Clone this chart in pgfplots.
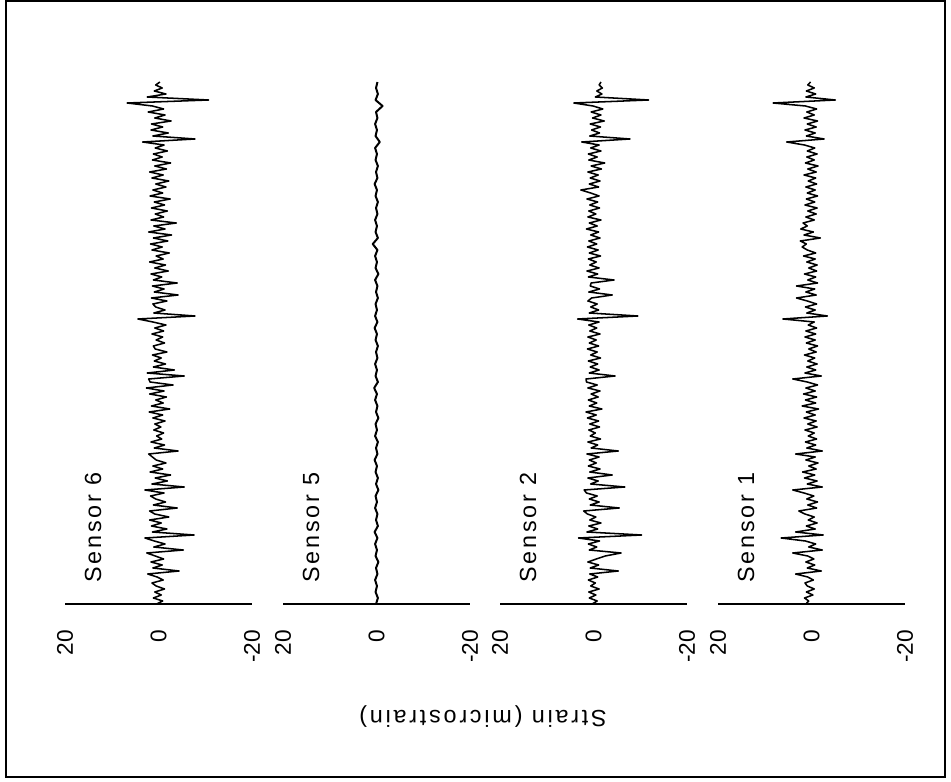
\documentclass[border=0pt]{standalone}
\usepackage{pgfplots}
\usepackage{pgfplotstable}
\pgfplotsset{compat=1.18}
\usepackage{fontspec}
\setmainfont{Liberation Sans}

% strain records, one value per sample (sample index runs upward)
\pgfplotstableread[row sep=\\]{
v\\
0.4\\ -0.9\\ 1.1\\ -0.6\\ 0.8\\ -1.3\\ 0.5\\ 1.4\\ -1.0\\ 0.3\\
2.3\\ -4.4\\ 1.2\\ -0.8\\ 1.6\\ -1.1\\ 0.7\\ 2.5\\ -5.3\\ 1.0\\
-1.4\\ 0.9\\ 2.9\\ -7.6\\ 1.3\\ -1.8\\ 1.5\\ -0.6\\ 1.9\\ -2.2\\
0.8\\ 1.9\\ -4.0\\ 1.1\\ -1.5\\ 0.6\\ 1.7\\ -1.2\\ 2.9\\ -5.5\\
1.4\\ -1.9\\ 0.7\\ -2.6\\ 1.8\\ -0.9\\ 1.2\\ -1.6\\ 0.5\\ 1.3\\
2.1\\ -4.2\\ 0.9\\ -1.3\\ 1.6\\ -0.7\\ 0.4\\ -1.1\\ 1.0\\ -0.5\\
0.8\\ -1.4\\ 1.2\\ -0.9\\ 2.0\\ -2.4\\ 1.5\\ -1.0\\ 0.6\\ -1.7\\
1.9\\ -1.2\\ 2.6\\ -3.1\\ 1.8\\ 2.1\\ -5.5\\ 2.4\\ -3.4\\ 1.1\\
-1.5\\ 0.9\\ -0.6\\ 1.3\\ -1.8\\ 0.7\\ 1.1\\ -1.3\\ 0.5\\ -0.9\\
1.4\\ -1.1\\ 0.8\\ -1.6\\ 1.2\\ 4.4\\ -7.8\\ 1.0\\ -1.4\\ 0.6\\
1.2\\ -1.8\\ 1.5\\ -4.2\\ 0.9\\ -1.2\\ 1.3\\ -4.0\\ 1.1\\ -0.7\\
1.6\\ -2.1\\ 0.8\\ -1.5\\ 1.9\\ -1.0\\ 0.5\\ -2.3\\ 1.4\\ -0.8\\
1.7\\ -2.0\\ 1.1\\ -2.8\\ 2.1\\ -1.4\\ 1.0\\ -3.8\\ 1.6\\ -1.1\\
0.7\\ -1.9\\ 1.5\\ -1.3\\ 0.9\\ -2.5\\ 1.8\\ -0.9\\ 1.2\\ -1.6\\
0.6\\ -2.2\\ 1.4\\ -1.0\\ 1.9\\ -1.7\\ 0.8\\ -2.6\\ 1.3\\ -0.8\\
1.1\\ -1.9\\ 0.7\\ -1.2\\ 3.4\\ -7.8\\ 1.2\\ -2.1\\ 1.6\\ -0.9\\
1.5\\ -2.7\\ 0.8\\ -1.4\\ 2.2\\ -1.1\\ 1.3\\ 6.7\\ -10.7\\ 2.4\\
-1.6\\ 0.9\\ -0.8\\ 0.6\\ -0.3\\
}\sensorsix

\pgfplotstableread[row sep=\\]{
v\\
0.1\\ -0.3\\ 0.2\\ -0.1\\ 0.3\\ -0.2\\ 0.1\\ -0.4\\ 0.2\\ -0.1\\
0.3\\ -0.2\\ 0.4\\ -0.3\\ 0.1\\ -0.2\\ 0.3\\ -0.1\\ 0.2\\ -0.4\\
0.1\\ -0.3\\ 0.2\\ -0.1\\ 0.4\\ -0.2\\ 0.1\\ -0.3\\ 0.3\\ -0.1\\
0.2\\ -0.4\\ 0.1\\ -0.2\\ 0.3\\ -0.1\\ 0.5\\ -0.3\\ 0.2\\ -0.1\\
0.3\\ -0.2\\ 0.1\\ -0.3\\ 0.2\\ -0.1\\ 0.4\\ -0.2\\ 0.3\\ -0.1\\
0.2\\ -0.3\\ 0.1\\ -0.2\\ 0.3\\ -0.4\\ 0.2\\ -0.1\\ 0.3\\ -0.2\\
0.8\\ -0.3\\ 0.2\\ -0.1\\ 0.3\\ -0.2\\ 0.1\\ -0.3\\ 0.2\\ -0.1\\
0.4\\ -0.2\\ 0.1\\ -0.3\\ 0.2\\ -0.1\\ 0.3\\ -0.7\\ 0.2\\ -0.1\\
0.3\\ -0.2\\ 0.1\\ -1.3\\ 0.2\\ -0.3\\ 0.1\\ -0.2\\
}\sensorfive

\pgfplotstableread[row sep=\\]{
v\\
0.3\\ -0.8\\ 0.9\\ -0.5\\ 1.0\\ -1.2\\ 0.6\\ -0.4\\ 1.1\\ -0.9\\
0.8\\ -5.3\\ 0.7\\ -1.1\\ 1.2\\ -0.6\\ -2.5\\ -5.9\\ 0.9\\ -0.7\\
1.1\\ -1.3\\ 3.2\\ -10.3\\ 1.4\\ -0.9\\ 1.0\\ -1.6\\ 0.8\\ -0.5\\
1.3\\ 2.1\\ -5.5\\ 0.7\\ -1.2\\ 0.9\\ -0.8\\ 1.5\\ 2.0\\ -6.7\\
0.6\\ -1.0\\ 1.2\\ -4.0\\ 0.8\\ -1.4\\ 1.1\\ -0.6\\ 0.9\\ -1.2\\
1.4\\ -5.3\\ 0.5\\ -0.9\\ 1.2\\ -1.5\\ 0.7\\ -0.4\\ 1.0\\ -1.3\\
0.8\\ -1.1\\ 1.3\\ -0.6\\ 1.6\\ -1.8\\ 0.9\\ -0.7\\ 1.1\\ -1.0\\
0.5\\ -1.4\\ 1.2\\ -0.8\\ 1.5\\ 1.6\\ -4.6\\ 0.9\\ -1.2\\ 0.7\\
-0.9\\ 1.1\\ -1.5\\ 0.6\\ -0.8\\ 1.3\\ -1.1\\ 0.9\\ -0.6\\ 1.2\\
-1.4\\ 0.8\\ -0.7\\ 1.0\\ -1.2\\ 3.4\\ -9.5\\ 0.9\\ -1.1\\ 0.6\\
-0.8\\ 1.2\\ 0.4\\ -4.0\\ 1.0\\ -1.3\\ 0.7\\ 0.5\\ -4.4\\ 1.1\\
-0.9\\ 1.4\\ -1.2\\ 0.8\\ -0.6\\ 1.1\\ -1.5\\ 0.9\\ -1.0\\ 1.3\\
-0.7\\ 1.0\\ -1.4\\ 0.6\\ -1.1\\ 1.5\\ -0.8\\ 0.9\\ -1.6\\ 1.2\\
-0.5\\ 1.0\\ -1.3\\ 0.8\\ -0.9\\ 1.4\\ -1.2\\ 0.6\\ 2.7\\ -1.1\\
0.9\\ -1.4\\ 0.7\\ -1.0\\ 1.2\\ -1.7\\ 0.5\\ -2.4\\ 1.0\\ -0.8\\
1.1\\ -1.6\\ 0.6\\ -1.2\\ 2.5\\ -7.8\\ 0.8\\ -1.3\\ 0.4\\ -1.5\\
0.7\\ -2.3\\ 0.2\\ -1.6\\ 0.5\\ -2.0\\ 0.1\\ 4.2\\ -11.8\\ -0.4\\
-1.8\\ -0.7\\ -1.9\\ -1.2\\ -1.6\\
}\sensortwo

\pgfplotstableread[row sep=\\]{
v\\
1.2\\ 0.6\\ 1.5\\ -0.3\\ 1.1\\ -0.6\\ 0.9\\ 1.4\\ -0.4\\ 0.8\\
3.4\\ -2.1\\ 0.9\\ -0.7\\ 1.2\\ -0.5\\ 0.8\\ 4.0\\ -2.3\\ 0.6\\
-0.9\\ 1.3\\ 6.5\\ -2.5\\ 3.4\\ -0.8\\ 1.1\\ -1.2\\ 0.7\\ -0.6\\
1.4\\ 2.7\\ -1.1\\ 0.8\\ -1.3\\ 1.0\\ -0.5\\ 1.6\\ 4.0\\ -2.3\\
0.9\\ -1.2\\ 1.5\\ -0.7\\ 1.9\\ -1.0\\ 0.6\\ -1.4\\ 1.2\\ -0.8\\
3.4\\ -2.3\\ 1.0\\ -0.9\\ 1.3\\ -1.1\\ 0.7\\ -0.6\\ 1.4\\ -1.2\\
0.8\\ -1.0\\ 1.6\\ -0.8\\ 1.1\\ -1.5\\ 2.0\\ -0.9\\ 1.3\\ -1.1\\
1.7\\ -0.8\\ 1.2\\ -1.3\\ 0.9\\ 4.0\\ -2.1\\ 1.4\\ -0.9\\ 1.0\\
-1.2\\ 0.8\\ -0.7\\ 1.5\\ -1.0\\ 0.6\\ -1.3\\ 1.1\\ -0.8\\ 1.4\\
-0.9\\ 1.2\\ -1.1\\ 0.7\\ -0.6\\ 6.1\\ -3.4\\ 1.0\\ -0.8\\ 1.3\\
-1.1\\ 0.9\\ 3.2\\ -1.0\\ 1.2\\ -0.7\\ 3.2\\ -1.3\\ 0.8\\ -0.9\\
1.5\\ -1.1\\ 0.6\\ -1.2\\ 1.0\\ -0.8\\ 1.7\\ -0.9\\ 0.9\\ 2.0\\
1.1\\ 2.4\\ -1.9\\ 1.6\\ -0.4\\ 2.3\\ 0.9\\ 1.8\\ -0.6\\ 1.2\\
-1.0\\ 0.8\\ -1.2\\ 1.4\\ -0.7\\ 1.1\\ -1.3\\ 0.9\\ -0.8\\ 1.2\\
-1.1\\ 0.7\\ -0.9\\ 1.6\\ -1.0\\ 0.8\\ -1.4\\ 1.3\\ -0.6\\ 1.0\\
-1.2\\ 0.9\\ -0.7\\ 1.5\\ 5.3\\ -2.7\\ 1.1\\ -0.8\\ 1.4\\ -1.0\\
0.9\\ -1.3\\ 1.6\\ -0.6\\ 1.0\\ -1.1\\ 1.3\\ 8.2\\ -5.1\\ 1.2\\
-0.9\\ 1.1\\ -0.6\\ 0.8\\ 0.2\\
}\sensorone

\newcommand\tickfont{\fontsize{17}{20}\selectfont}
\newcommand\labelfont{\fontsize{17.5}{20}\selectfont\addfontfeature{LetterSpace=12}}

\pgfplotsset{
  strainpanel/.style={
    scale only axis,
    width=140.25pt, height=391.5pt,
    xmin=-20, xmax=20, x dir=reverse,
    ymin=0, ymax=174,
    axis x line*=bottom, axis y line=none,
    axis line style={-, line width=1.5pt},
    xtick={-20,0,20}, xticklabels={-20,0,20},
    major tick length=0pt,
    xticklabel style={rotate=90, anchor=east, font=\tickfont, xshift=-16pt},
    clip=false,
  },
  trace/.style={black, line width=1.15pt, line join=round},
}

\begin{document}
\begin{tikzpicture}
\path[use as bounding box] (0,0) rectangle (713.25pt,586.5pt);
\draw[line width=1.5pt] (4.5pt,3.75pt) rectangle (708.75pt,585.75pt);

\begin{axis}[strainpanel, at={(48.75pt,133.5pt)}, anchor=south west]
  \addplot[trace] table[x index=0, y index=0, y expr=\coordindex] {\sensorsix};
  \node[rotate=90, anchor=west, font=\labelfont] at (axis cs:14,5.5) {Sensor 6};
\end{axis}

\begin{axis}[strainpanel, at={(212.25pt,133.5pt)}, anchor=south west]
  \addplot[trace, line width=1.5pt] table[x index=0, y index=0, y expr=2*\coordindex] {\sensorfive};
  \node[rotate=90, anchor=west, font=\labelfont] at (axis cs:14,5.5) {Sensor 5};
\end{axis}

\begin{axis}[strainpanel, at={(375pt,133.5pt)}, anchor=south west]
  \addplot[trace] table[x index=0, y index=0, y expr=\coordindex] {\sensortwo};
  \node[rotate=90, anchor=west, font=\labelfont] at (axis cs:14,5.5) {Sensor 2};
\end{axis}

\begin{axis}[strainpanel, at={(538.5pt,133.5pt)}, anchor=south west]
  \addplot[trace] table[x index=0, y index=0, y expr=\coordindex] {\sensorone};
  \node[rotate=90, anchor=west, font=\labelfont] at (axis cs:14,5.5) {Sensor 1};
\end{axis}

\node[rotate=180, font=\labelfont] at (362.25pt,48.75pt) {Strain (microstrain)};
\end{tikzpicture}
\end{document}
